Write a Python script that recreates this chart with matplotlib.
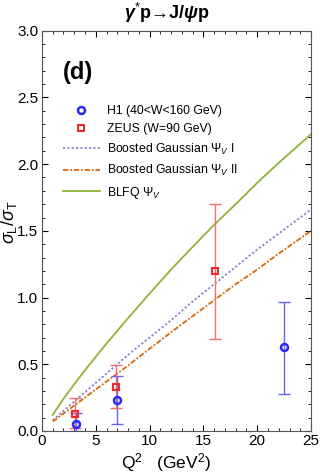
import numpy as np
import matplotlib
matplotlib.use("Agg")
import matplotlib.pyplot as plt
from matplotlib.ticker import MultipleLocator, FormatStrFormatter

plt.rcParams['font.family'] = ['Liberation Sans', 'DejaVu Sans']
plt.rcParams['mathtext.fontset'] = 'custom'
plt.rcParams['mathtext.rm'] = 'Liberation Sans'
plt.rcParams['mathtext.it'] = 'Liberation Sans:italic'
plt.rcParams['mathtext.bf'] = 'Liberation Sans:bold:italic'

# H1 data
h1_q2 = [3.17, 7.0, 22.45]
h1_val = [0.05, 0.23, 0.63]
h1_lo = [0.05, 0.18, 0.35]
h1_hi = [0.085, 0.185, 0.34]

# ZEUS data
zeus_q2 = [3.08, 6.9, 16.04]
zeus_val = [0.13, 0.33, 1.20]
zeus_lo = [0.11, 0.16, 0.51]
zeus_hi = [0.115, 0.165, 0.50]

# model curves
q2_grid = [1, 2, 3, 4, 5, 6, 7, 8, 10, 12, 14, 16, 18, 20, 22, 25]
bg1 = [0.08, 0.15, 0.22, 0.29, 0.36, 0.43, 0.50, 0.57, 0.70, 0.83, 0.97, 1.10, 1.23, 1.36, 1.48, 1.66]
bg2 = [0.07, 0.13, 0.19, 0.25, 0.31, 0.37, 0.43, 0.49, 0.615, 0.74, 0.86, 0.98, 1.10, 1.21, 1.33, 1.50]
blfq = [0.12, 0.24, 0.35, 0.455, 0.555, 0.655, 0.75, 0.845, 1.03, 1.21, 1.38, 1.545, 1.70, 1.86, 2.01, 2.225]

fig = plt.figure(figsize=(3.2, 4.74), dpi=100)
ax = fig.add_axes([0.131, 0.091, 0.841, 0.844])

ax.plot(q2_grid, bg1, color='#8a80c8', ls=(0, (1.2, 1.2)), lw=1.3,
        label=r'Boosted Gaussian Ψ$_V$ I')
ax.plot(q2_grid, bg2, color='#d2690e', ls=(0, (3, 1, 1, 1)), lw=1.3,
        label=r'Boosted Gaussian Ψ$_V$ II')
ax.plot(q2_grid, blfq, color='#8fb33a', lw=1.3, label=r'BLFQ Ψ$_V$')

ax.errorbar(h1_q2, h1_val, yerr=[h1_lo, h1_hi], fmt='none', ecolor='#6464f0',
            elinewidth=1.0, capsize=4.5, capthick=1.0)
ax.errorbar(zeus_q2, zeus_val, yerr=[zeus_lo, zeus_hi], fmt='none', ecolor='#f07070',
            elinewidth=1.0, capsize=4.5, capthick=1.0)
ax.plot(h1_q2, h1_val, 'o', ms=5, mfc='none', mec='#2a2af5', mew=1.8,
        label='H1 (40<W<160 GeV)')
ax.plot(zeus_q2, zeus_val, 's', ms=5, mfc='none', mec='#f02a2a', mew=1.5,
        label='ZEUS (W=90 GeV)')

handles, labels = ax.get_legend_handles_labels()
order = [3, 4, 0, 1, 2]
ax.legend([handles[i] for i in order], [labels[i] for i in order],
          loc='upper left', bbox_to_anchor=(63 / 320, 1 - 105 / 474),
          bbox_transform=fig.transFigure, frameon=False, borderpad=0,
          borderaxespad=0, fontsize=8.8, handlelength=3.0, handletextpad=0.57,
          labelspacing=0.52)

fig.text(63 / 320, 1 - 73 / 474, '(d)', fontsize=17, fontweight='bold',
         ha='left', va='center')

ax.set_xlim(0, 25)
ax.set_ylim(0, 3.0)
ax.xaxis.set_major_locator(MultipleLocator(5))
ax.xaxis.set_minor_locator(MultipleLocator(1))
ax.yaxis.set_major_locator(MultipleLocator(0.5))
ax.yaxis.set_minor_locator(MultipleLocator(0.1))
ax.yaxis.set_major_formatter(FormatStrFormatter('%.1f'))
ax.tick_params(which='both', direction='in', top=True, right=True, labelsize=11)
ax.tick_params(which='major', length=4, width=0.8, pad=2.5)
ax.tick_params(which='minor', length=2, width=0.6)
for s in ax.spines.values():
    s.set_color('#555555')

fig.text(166 / 320, 1 - 463 / 474, r'Q$^2$   (GeV$^2$)', fontsize=12.5,
         ha='center', va='center')
fig.text(9 / 320, 1 - 222 / 474, r'$\sigma_\mathrm{L}/\sigma_\mathrm{T}$',
         fontsize=13, rotation=90, ha='center', va='center')
fig.text(167 / 320, 1 - 13 / 474,
         r'$\mathbf{\gamma}^{*}$p→J/$\mathbf{\psi}$p',
         fontsize=13, fontweight='bold', ha='center', va='center')

fig.savefig('out.png', dpi=100)
